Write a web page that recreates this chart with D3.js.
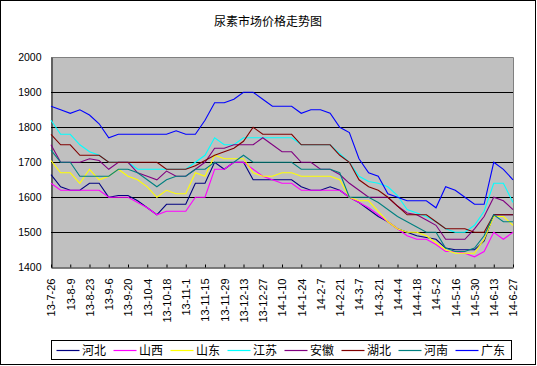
<!DOCTYPE html>
<html><head><meta charset="utf-8">
<script src="https://cdn.jsdelivr.net/npm/d3@7"></script>
<style>
html,body{margin:0;padding:0;background:#fff;}
svg{display:block;}
text{font-family:"Liberation Sans",Arial,"Noto Sans CJK SC",sans-serif;}
</style></head>
<body><svg id="c" width="537" height="366"></svg>
<script>
const title = "尿素市场价格走势图";
const dates = ["13-7-26","13-8-2","13-8-9","13-8-16","13-8-23","13-8-30","13-9-6","13-9-13","13-9-20","13-9-27",
"13-10-4","13-10-11","13-10-18","13-10-25","13-11-1","13-11-8","13-11-15","13-11-22","13-11-29","13-12-6",
"13-12-13","13-12-20","13-12-27","14-1-3","14-1-10","14-1-17","14-1-24","14-1-31","14-2-7","14-2-14",
"14-2-21","14-2-28","14-3-7","14-3-14","14-3-21","14-3-28","14-4-4","14-4-11","14-4-18","14-4-25",
"14-5-2","14-5-9","14-5-16","14-5-23","14-5-30","14-6-6","14-6-13","14-6-20","14-6-27"];
const tickLabels = dates.filter((d,i)=>i%2===0);
const yTicks = [1400,1500,1600,1700,1800,1900,2000];
const seriesNames = ["河北","山西","山东","江苏","安徽","湖北","河南","广东"];
const seriesColors = ["#000080","#FF00FF","#FFFF00","#00FFFF","#800080","#800000","#008080","#0000FF"];

const hebei = [1665,1630,1620,1620,1640,1640,1600,1605,1605,1590,1570,1550,1580,1580,1580,1640,1640,1700,1680,1700,1700,1650,1650,1650,1650,1650,1630,1620,1620,1630,1620,1600,1585,1565,1545,1530,1510,1500,1490,1485,1480,1455,1450,1450,1450,1475,1550,1550,1550];
const shanxi = [1640,1620,1620,1620,1620,1620,1600,1600,1600,1585,1570,1550,1560,1560,1560,1600,1600,1680,1680,1700,1700,1680,1660,1650,1640,1640,1620,1620,1620,1620,1620,1600,1585,1570,1550,1530,1510,1490,1480,1480,1465,1445,1445,1440,1430,1445,1500,1480,1500];
const shandong = [1705,1670,1670,1640,1680,1650,1660,1680,1660,1650,1630,1600,1620,1610,1610,1670,1660,1720,1710,1710,1710,1670,1660,1660,1670,1670,1660,1660,1660,1660,1650,1600,1590,1590,1560,1530,1510,1500,1500,1490,1470,1450,1440,1440,1440,1480,1545,1545,1520];
const jiangsu = [1820,1780,1780,1750,1730,1720,1700,1700,1700,1680,1680,1680,1680,1680,1680,1700,1720,1770,1750,1750,1770,1770,1770,1770,1770,1770,1750,1750,1750,1750,1725,1700,1660,1645,1640,1630,1605,1565,1555,1545,1530,1510,1500,1500,1520,1560,1640,1640,1585];
const anhui = [1750,1700,1700,1700,1710,1705,1680,1700,1700,1670,1660,1650,1675,1660,1660,1680,1700,1740,1740,1750,1750,1750,1770,1750,1730,1730,1700,1700,1680,1680,1665,1640,1620,1600,1600,1600,1575,1555,1550,1535,1520,1480,1480,1480,1510,1545,1600,1590,1565];
const hubei = [1780,1750,1750,1720,1720,1720,1700,1700,1700,1700,1700,1700,1680,1680,1680,1690,1705,1720,1730,1740,1760,1800,1780,1780,1780,1780,1750,1750,1750,1750,1720,1700,1650,1630,1620,1600,1575,1550,1550,1550,1530,1510,1510,1510,1500,1500,1550,1550,1550];
const henan = [1735,1700,1700,1660,1660,1660,1660,1680,1680,1670,1650,1630,1650,1660,1660,1680,1680,1700,1700,1700,1720,1700,1700,1700,1700,1700,1680,1680,1680,1680,1670,1600,1600,1600,1585,1565,1545,1530,1515,1500,1500,1455,1445,1445,1455,1490,1550,1530,1530];
const guangdong = [1860,1850,1840,1850,1835,1810,1770,1780,1780,1780,1780,1780,1780,1790,1780,1780,1820,1870,1870,1880,1900,1900,1880,1860,1860,1860,1840,1850,1850,1840,1800,1785,1710,1670,1660,1610,1600,1590,1590,1590,1570,1630,1620,1600,1580,1580,1700,1680,1650];
const seriesValues = [hebei,shanxi,shandong,jiangsu,anhui,hubei,henan,guangdong];

const svg = d3.select("#c");
const L=51, R=513, T=57.3, B=267.3;
const x = d3.scalePoint().domain(dates).range([L,R]);
const y = d3.scaleLinear().domain([1400,2000]).range([B,T]);

// outer frame
svg.append("rect").attr("x",0.5).attr("y",0.5).attr("width",535).attr("height",364)
  .attr("fill","#fff").attr("stroke","#000").attr("stroke-width",1);

// title
svg.append("text").attr("x",268).attr("y",22).attr("text-anchor","middle")
  .attr("dominant-baseline","central").attr("font-size",12).attr("font-family","Noto Sans CJK SC").text(title);

// plot background
svg.append("rect").attr("x",L).attr("y",T).attr("width",R-L).attr("height",B-T).attr("fill","#C0C0C0");
// gridlines
svg.append("g").selectAll("line").data(yTicks.filter(v=>v>1400&&v<2000)).join("line")
  .attr("x1",L).attr("x2",R).attr("y1",d=>Math.round(y(d))+0.5).attr("y2",d=>Math.round(y(d))+0.5)
  .attr("stroke","#000").attr("stroke-width",1);
// border top/right gray
svg.append("path").attr("d",`M${L},${Math.round(T)+0.5}H${R+0.5}V${Math.round(B)}`)
  .attr("fill","none").attr("stroke","#808080").attr("stroke-width",1);

// y axis
const yAxis = d3.axisLeft(y).tickValues(yTicks).tickFormat(d3.format("d")).tickSize(0).tickPadding(10);
const yg = svg.append("g").attr("transform",`translate(${L+0.5},0)`).call(yAxis);
yg.select(".domain").attr("stroke","#000");
yg.selectAll("text").attr("font-size",10.5).attr("fill","#000").attr("font-family","Liberation Sans, Arial");

// x axis
const xAxis = d3.axisBottom(x).tickValues(tickLabels).tickSize(-3).tickSizeOuter(0).tickPadding(0);
const xg = svg.append("g").attr("transform",`translate(0,${Math.round(B)+0.5})`).call(xAxis);
xg.select(".domain").attr("stroke","#000");
xg.selectAll(".tick line").attr("stroke","#000");
xg.selectAll("text").attr("font-size",11).attr("fill","#000").attr("font-family","Liberation Sans, Arial")
  .attr("text-anchor","end").attr("transform","translate(0,11) rotate(-90)")
  .attr("dy","0.35em").attr("x",0).attr("y",0);

// lines
const line = d3.line().x((d,i)=>x(dates[i])).y(d=>y(d));
const lg = svg.append("g");
seriesValues.forEach((vals,k)=>{
  lg.append("path").datum(vals).attr("d",line).attr("fill","none")
    .attr("stroke",seriesColors[k]).attr("stroke-width",1.1);
});

// legend
const lgd = svg.append("g");
lgd.append("rect").attr("x",51.5).attr("y",340.5).attr("width",460).attr("height",19)
  .attr("fill","#fff").attr("stroke","#000").attr("stroke-width",1);
seriesNames.forEach((n,k)=>{
  const x0 = 56.5 + k*57;
  lgd.append("line").attr("x1",x0).attr("x2",x0+23).attr("y1",350.5).attr("y2",350.5)
    .attr("stroke",seriesColors[k]).attr("stroke-width",1.2);
  lgd.append("text").attr("x",x0+25.5).attr("y",350.5).attr("dominant-baseline","central")
    .attr("font-size",12).attr("font-family","Noto Sans CJK SC").text(n);
});
</script></body></html>
